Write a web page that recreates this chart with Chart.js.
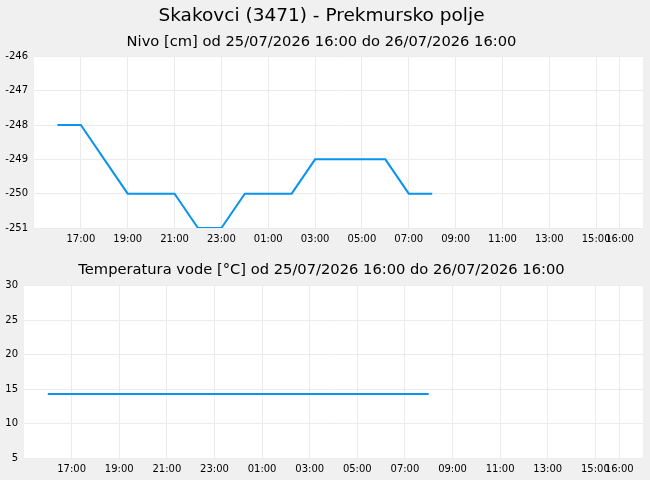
<!DOCTYPE html>
<html>
<head>
<meta charset="utf-8">
<script src="https://cdn.jsdelivr.net/npm/chart.js@4"></script>
<style>
  body { margin: 0; background: #f0f0f0; }
  .box { position: absolute; left: 0; width: 650px; }
  #c1 { top: 0; height: 250px; }
  #c2 { top: 250px; height: 230px; }
</style>
</head>
<body>
<div class="box" id="c1"><canvas id="nivo" width="650" height="250"></canvas></div>
<div class="box" id="c2"><canvas id="temp" width="650" height="230"></canvas></div>
<script>
const times = ['16:00','17:00','18:00','19:00','20:00','21:00','22:00','23:00','00:00',
  '01:00','02:00','03:00','04:00','05:00','06:00','07:00','08:00'];
const nivo = [-248,-248,-249,-250,-250,-250,-251,-251,-250,-250,-250,-249,-249,-249,-249,-250,-250];
const temp = [14.3,14.3,14.3,14.3,14.3,14.3,14.3,14.3,14.3,14.3,14.3,14.3,14.3,14.3,14.3,14.3,14.3];
const tickLabels = ['17:00','19:00','21:00','23:00','01:00','03:00','05:00','07:00',
  '09:00','11:00','13:00','15:00','16:00'];

// hours since 25/07 16:00
const toHours = t => (parseInt(t) - 16 + 24) % 24;
const tickHours = tickLabels.map((t, i) => i === tickLabels.length - 1 ? 24 : toHours(t));

Chart.defaults.font.family = 'DejaVu Sans';
Chart.defaults.color = '#000';

const plotBg = {
  id: 'plotBg',
  beforeDraw(chart) {
    const { ctx, chartArea: a } = chart;
    ctx.save();
    ctx.fillStyle = '#fff';
    ctx.fillRect(a.left, a.top, a.right - a.left, a.bottom - a.top);
    ctx.restore();
  }
};

function makeChart(id, values, yOpts, yWidth, titles) {
  return new Chart(document.getElementById(id), {
    type: 'line',
    data: {
      datasets: [{
        data: values.map((v, i) => ({ x: toHours(times[i]), y: v })),
        borderColor: '#0894f0',
        borderWidth: 2,
        pointRadius: 0,
        tension: 0,
        fill: false
      }]
    },
    options: {
      responsive: false,
      animation: false,
      layout: { padding: { left: 0, right: 7, top: 0, bottom: 0 } },
      plugins: Object.assign({ legend: { display: false }, tooltip: { enabled: false } }, titles),
      scales: {
        x: {
          type: 'linear', min: -1, max: 25,
          border: { display: false },
          grid: { color: '#ebebeb', drawTicks: false },
          afterBuildTicks: s => { s.ticks = tickHours.map(v => ({ value: v })); },
          afterFit: s => { s.height = 22; },
          ticks: {
            padding: 5, maxRotation: 0, autoSkip: false,
            font: { size: 10 },
            callback: (v) => tickLabels[tickHours.indexOf(v)]
          }
        },
        y: Object.assign({
          border: { display: false },
          grid: { color: '#ebebeb', drawTicks: false },
          afterFit: s => { s.width = yWidth; }
        }, yOpts)
      }
    },
    plugins: [plotBg]
  });
}

makeChart('nivo', nivo,
  { min: -251, max: -246, ticks: { stepSize: 1, padding: 6, font: { size: 10 } } },
  34,
  {
    title: { display: true, text: 'Skakovci (3471) - Prekmursko polje',
      font: { size: 18.5, weight: 'normal' }, padding: { top: 5, bottom: 4 } },
    subtitle: { display: true, text: 'Nivo [cm] od 25/07/2026 16:00 do 26/07/2026 16:00',
      font: { size: 14.7 }, color: '#000', padding: { top: 2, bottom: 5.5 } }
  });

makeChart('temp', temp,
  { min: 5, max: 30, ticks: { stepSize: 5, padding: 6, font: { size: 10 } } },
  24,
  {
    title: { display: true, text: 'Temperatura vode [°C] od 25/07/2026 16:00 do 26/07/2026 16:00',
      font: { size: 14.7, weight: 'normal' }, padding: { top: 11, bottom: 7 } }
  });
</script>
</body>
</html>
